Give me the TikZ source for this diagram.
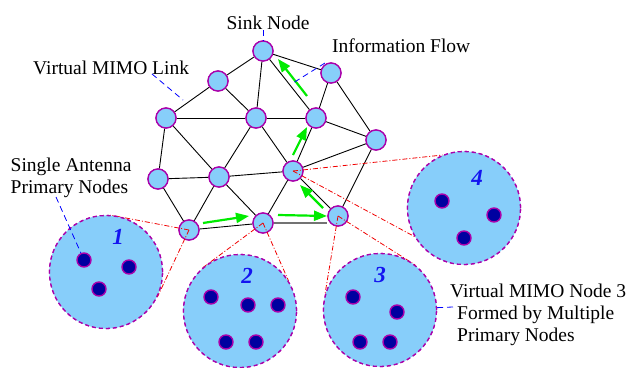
\documentclass[tikz,border=0pt]{standalone}
\usepackage{fontspec}
\setmainfont{Liberation Serif}
\usetikzlibrary{arrows.meta,calc}

\definecolor{skyfill}{RGB}{135,206,250}
\definecolor{ring}{RGB}{170,0,170}
\definecolor{deepblue}{RGB}{0,0,160}
\definecolor{flowgreen}{RGB}{0,235,0}
\definecolor{linkred}{RGB}{240,0,0}
\definecolor{callout}{RGB}{0,0,255}
\definecolor{numblue}{RGB}{20,20,240}

\begin{document}
\begin{tikzpicture}[x=1pt,y=-1pt,
  font=\fontsize{19.5}{22}\selectfont,
  relay/.style={circle,draw=ring,fill=skyfill,line width=1.3pt,minimum size=20pt,inner sep=0pt},
  primary/.style={circle,draw=ring,fill=deepblue,line width=1.4pt,minimum size=14pt,inner sep=0pt},
  cluster/.style={circle,draw=ring,fill=skyfill,line width=1.3pt,dash pattern=on 4pt off 3pt,minimum size=113pt,inner sep=0pt},
  link/.style={black,line width=0.9pt},
  thicklink/.style={black!55,line width=2pt},
  flow/.style={flowgreen,line width=2.2pt,-{Triangle[length=13pt,width=10pt]}},
  conelink/.style={linkred,line width=0.8pt,dash pattern=on 5pt off 2pt on 1pt off 2pt},
  note/.style={callout,line width=0.8pt,dash pattern=on 6pt off 4pt},
  txt/.style={inner sep=0pt,anchor=base west},
  num/.style={inner sep=0pt,text=numblue,font=\fontsize{23}{26}\selectfont\bfseries\itshape},
]
\useasboundingbox (0,0) rectangle (632,367);

% relay nodes of the multihop network
\node[relay] (S) at (263,51) {};
\node[relay] (A) at (218,81) {};
\node[relay] (B) at (331,73) {};
\node[relay] (C) at (166,118) {};
\node[relay] (D) at (256,118) {};
\node[relay] (E) at (316,118) {};
\node[relay] (F) at (376,140) {};
\node[relay] (G) at (158,179) {};
\node[relay] (H) at (219,177) {};
\node[relay] (I) at (293,171) {};
\node[relay] (J) at (189,230) {};
\node[relay] (K) at (263,223) {};
\node[relay] (L) at (338,216) {};

% virtual MIMO links
\foreach \a/\b in {S/A,S/D,S/E,S/B,B/E,B/F,A/C,A/D,C/D,C/G,C/H,D/E,D/H,D/I,
                   E/I,E/F,F/I,F/L,G/H,G/J,H/I,H/J,H/K,I/K,I/L,J/K}
  \draw[link] (\a) -- (\b);
\draw[thicklink] (K.east) -- (K -| L.west);

% redraw relays on top of the links
\foreach \p in {{263,51},{218,81},{331,73},{166,118},{256,118},{316,118},
                {376,140},{158,179},{219,177},{293,171},{189,230},{263,223},{338,216}}
  \node[relay] at (\p) {};

% clusters of primary nodes
\node[cluster] (c1) at (106,272) {};
\node[cluster] (c2) at (240,311) {};
\node[cluster] (c3) at (380,310) {};
\node[cluster] (c4) at (464,208) {};

% cones from each relay to its cluster
\draw[conelink] (J.center) -- (c1.86);
\draw[conelink] (J.center) -- (c1.-26);
\draw[conelink] (K.center) -- (c2.131);
\draw[conelink] (K.center) -- (c2.32);
\draw[conelink] (L.center) -- (c3.165);
\draw[conelink] (L.center) -- (c3.52);
\draw[conelink] (I.center) -- (c4.112);
\draw[conelink] (I.center) -- (c4.210);

% redraw clusters over the cone ends
\foreach \p in {{106,272},{240,311},{380,310},{464,208}}
  \node[cluster] at (\p) {};

% primary nodes
\node[primary] (p11) at (84,260) {};
\node[primary] (p12) at (129,267) {};
\node[primary] (p13) at (99,289) {};
\node[primary] (p21) at (211,297) {};
\node[primary] (p22) at (248,305) {};
\node[primary] (p23) at (278,305) {};
\node[primary] (p24) at (226,342) {};
\node[primary] (p25) at (256,342) {};
\node[primary] (p31) at (353,297) {};
\node[primary] (p32) at (397,312) {};
\node[primary] (p33) at (360,342) {};
\node[primary] (p34) at (390,342) {};
\node[primary] (p41) at (442,201) {};
\node[primary] (p42) at (494,215) {};
\node[primary] (p43) at (464,238) {};

% cluster numbers
\node[num] (n1) at (118,237) {1};
\node[num] (n2) at (247,276) {2};
\node[num] (n3) at (380,275) {3};
\node[num] (n4) at (477,178) {4};

% information flow towards the sink
\draw[flow] ($(J)+(14,-7)$) -- ($(K)+(-14,-7)$);
\draw[flow] ($(K)+(15,-8)$) -- ($(L)+(-11,0)$);
\draw[flow] ($(L)+(-15,-8)$) -- ($(I)+(7,14)$);
\draw[flow] ($(I)+(0,-16)$) -- ($(E)+(-9,9)$);
\draw[flow] ($(E)+(-9,-22)$) -- ($(S)+(15,8)$);

% labels
\node[txt,anchor=base] (tsink) at (268,29) {Sink Node};
\node[txt] (tflow) at (332,52) {Information Flow};
\node[txt] (tlink) at (33,74) {Virtual MIMO Link};
\node[txt] (tsa1) at (10.5,171) {Single Antenna};
\node[txt] (tsa2) at (10.5,193) {Primary Nodes};
\node[txt] (tv1) at (450,297) {Virtual MIMO Node 3};
\node[txt] (tv2) at (457,319) {Formed by Multiple};
\node[txt] (tv3) at (457,341) {Primary Nodes};

% callout lines
\coordinate (sinktail) at (263,30);
\coordinate (flowtail) at (325,63);
\coordinate (flowhead) at (293,83);
\coordinate (linktail) at (152,74);
\coordinate (linkhead) at (183,100);
\coordinate (satail) at (56,197);
\coordinate (vtail) at (453,307);
\draw[note] (sinktail) -- (S.north);
\draw[note] (flowtail) -- (flowhead);
\draw[note] (linktail) -- (linkhead);
\draw[note] (satail) -- (p11);
\draw[note] (vtail) -- (c3);
\end{tikzpicture}
\end{document}
